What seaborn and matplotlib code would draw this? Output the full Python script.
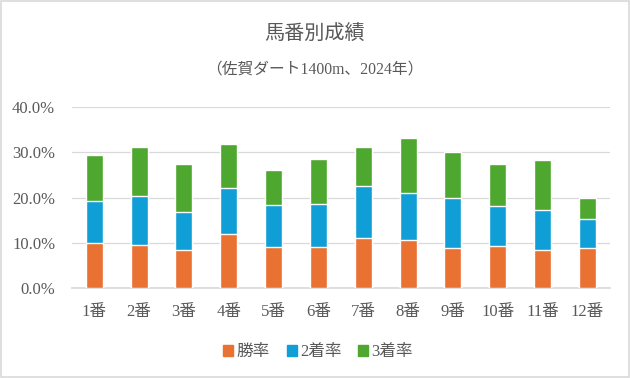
import matplotlib
matplotlib.use("Agg")
import matplotlib.pyplot as plt
import seaborn as sns
import pandas as pd
import numpy as np
from matplotlib.ticker import FuncFormatter
from matplotlib.patches import Rectangle

categories = ["1番", "2番", "3番", "4番", "5番", "6番", "7番", "8番", "9番", "10番", "11番", "12番"]
win_rate = [10.1, 9.5, 8.4, 12.0, 9.1, 9.1, 11.2, 10.6, 9.0, 9.3, 8.4, 9.0]
second_rate = [9.1, 10.9, 8.4, 10.2, 9.3, 9.5, 11.4, 10.3, 10.9, 8.9, 8.8, 6.3]
third_rate = [10.2, 10.8, 10.5, 9.5, 7.7, 9.9, 8.6, 12.1, 10.1, 9.1, 11.0, 4.7]
series_names = ["勝率", "2着率", "3着率"]
colors = ["#E97132", "#0F9ED5", "#4EA72E"]
y_ticks = [0, 10, 20, 30, 40]

sns.set_theme(style="white")
plt.rcParams["font.family"] = ["Liberation Serif", "Noto Sans CJK JP"]
text_color = "#595959"

df = pd.DataFrame({"cat": categories,
                   "s1": np.array(win_rate),
                   "s2": np.array(win_rate) + np.array(second_rate),
                   "s3": np.array(win_rate) + np.array(second_rate) + np.array(third_rate)})

fig = plt.figure(figsize=(6.3, 3.78), dpi=100)
ax = fig.add_axes([0.114, 0.237, 0.854, 0.481])

for col, c in zip(["s3", "s2", "s1"], colors[::-1]):
    sns.barplot(data=df, x="cat", y=col, color=c, width=0.38, saturation=1, ax=ax, zorder=3)

ax.set_ylim(0, 40)
ax.set_yticks(y_ticks)
ax.yaxis.set_major_formatter(FuncFormatter(lambda v, p: f"{v:.1f}%"))
ax.grid(axis="y", color="#D9D9D9", linewidth=0.9, zorder=0)
ax.set_axisbelow(True)
for s in ["top", "right", "left"]:
    ax.spines[s].set_visible(False)
ax.spines["bottom"].set_color("#D9D9D9")
ax.set_xlabel("")
ax.set_ylabel("")
ax.tick_params(axis="both", length=0, labelsize=12, colors=text_color)
ax.tick_params(axis="x", pad=11)
ax.tick_params(axis="y", pad=12)

fig.text(0.5, 0.905, "馬番別成績", ha="center", va="center", fontsize=14.5, color=text_color)
fig.text(0.5, 0.815, "（佐賀ダート1400m、2024年）", ha="center", va="center", fontsize=11.3, color=text_color)

handles = [Rectangle((0, 0), 1, 1, color=c) for c in colors]
leg = fig.legend(handles, series_names, loc="center", bbox_to_anchor=(0.505, 0.068), ncol=3,
                 frameon=False, fontsize=12, handlelength=0.6, handleheight=0.6,
                 handletextpad=0.2, columnspacing=1.0)
for t in leg.get_texts():
    t.set_color(text_color)

fig.patches.append(Rectangle((0.001, 0.002), 0.997, 0.995, transform=fig.transFigure,
                             fill=False, edgecolor="#D9D9D9", linewidth=1.2))

fig.savefig("out.png", dpi=100)
